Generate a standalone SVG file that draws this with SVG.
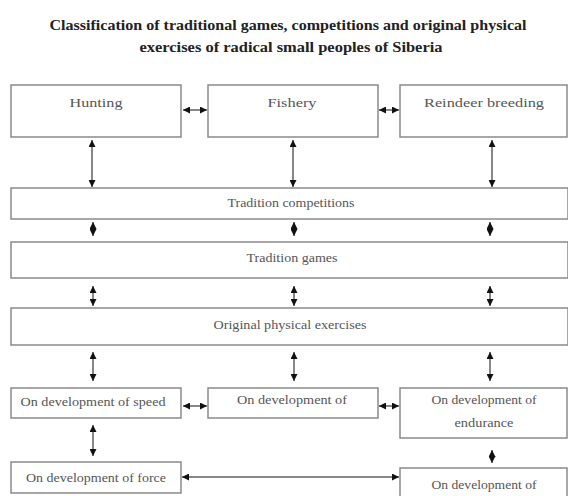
<svg xmlns="http://www.w3.org/2000/svg" width="568" height="496" viewBox="0 0 568 496">
<defs>
<marker id="ah" viewBox="0 0 10 10" refX="10" refY="5" markerWidth="7" markerHeight="7" orient="auto-start-reverse" markerUnits="userSpaceOnUse">
<path d="M0,0 L10,5 L0,10 z" fill="#111"/>
</marker>
<style>
.box{fill:#fff;stroke:#8a8a8a;stroke-width:1.5}
.t{font-size:12.5px;fill:#555;text-anchor:middle}
.tb{font-size:14px;font-weight:bold;fill:#222;text-anchor:middle}
.c{stroke:#111;stroke-width:1;fill:none;marker-start:url(#ah);marker-end:url(#ah)}
</style>
</defs>
<rect width="568" height="496" fill="#fff"/>
<g font-family="Liberation Serif, Times New Roman, serif">
<g id="title">
<text class="tb" x="288" y="30" textLength="477" lengthAdjust="spacingAndGlyphs">Classification of traditional games, competitions and original physical</text>
<text class="tb" x="291" y="52" textLength="303" lengthAdjust="spacingAndGlyphs">exercises of radical small peoples of Siberia</text>
</g>
<g id="hunting"><rect class="box" x="11" y="85" width="170" height="52"/><text class="t" x="96" y="107" textLength="53" lengthAdjust="spacingAndGlyphs">Hunting</text></g>
<g id="fishery"><rect class="box" x="208" y="85" width="170" height="52"/><text class="t" x="292" y="107" textLength="49" lengthAdjust="spacingAndGlyphs">Fishery</text></g>
<g id="reindeer"><rect class="box" x="400" y="85" width="167" height="52"/><text class="t" x="484" y="107" textLength="120" lengthAdjust="spacingAndGlyphs">Reindeer breeding</text></g>
<g id="competitions"><rect class="box" x="11" y="188" width="557" height="31"/><text class="t" x="291" y="207" textLength="127" lengthAdjust="spacingAndGlyphs">Tradition competitions</text></g>
<g id="games"><rect class="box" x="11" y="242" width="557" height="36"/><text class="t" x="292" y="262" textLength="91" lengthAdjust="spacingAndGlyphs">Tradition games</text></g>
<g id="exercises"><rect class="box" x="11" y="308" width="557" height="37"/><text class="t" x="290" y="329" textLength="153" lengthAdjust="spacingAndGlyphs">Original physical exercises</text></g>
<g id="speed"><rect class="box" x="11" y="388" width="170" height="30"/><text class="t" x="93" y="406" textLength="145" lengthAdjust="spacingAndGlyphs">On development of speed</text></g>
<g id="dev-middle"><rect class="box" x="208" y="388" width="170" height="30"/><text class="t" x="292" y="404" textLength="110" lengthAdjust="spacingAndGlyphs">On development of</text></g>
<g id="endurance"><rect class="box" x="400" y="388" width="167" height="50"/><text class="t" x="484" y="404" textLength="105" lengthAdjust="spacingAndGlyphs">On development of</text><text class="t" x="484" y="427" textLength="59" lengthAdjust="spacingAndGlyphs">endurance</text></g>
<g id="force"><rect class="box" x="11" y="462" width="170" height="31"/><text class="t" x="96" y="482" textLength="140" lengthAdjust="spacingAndGlyphs">On development of force</text></g>
<g id="dev-bottom"><rect class="box" x="400" y="468" width="167" height="40"/><text class="t" x="484" y="489" textLength="105" lengthAdjust="spacingAndGlyphs">On development of</text></g>
</g>
<g id="connectors">
<path class="c" d="M183,110 H207"/>
<path class="c" d="M379,110 H399"/>
<path class="c" d="M92,140 V187"/>
<path class="c" d="M293,140 V187"/>
<path class="c" d="M492,140 V187"/>
<path class="c" d="M93,222 V236"/>
<path class="c" d="M294,222 V236"/>
<path class="c" d="M490,222 V236"/>
<path class="c" d="M93,286 V306"/>
<path class="c" d="M294,286 V306"/>
<path class="c" d="M490,286 V306"/>
<path class="c" d="M93,352 V381"/>
<path class="c" d="M294,352 V381"/>
<path class="c" d="M490,352 V381"/>
<path class="c" d="M183,406 H207"/>
<path class="c" d="M379,406 H399"/>
<path class="c" d="M93,425 V456"/>
<path class="c" d="M492,450 V463"/>
<path class="c" d="M182,477 H399"/>
</g>
</svg>
